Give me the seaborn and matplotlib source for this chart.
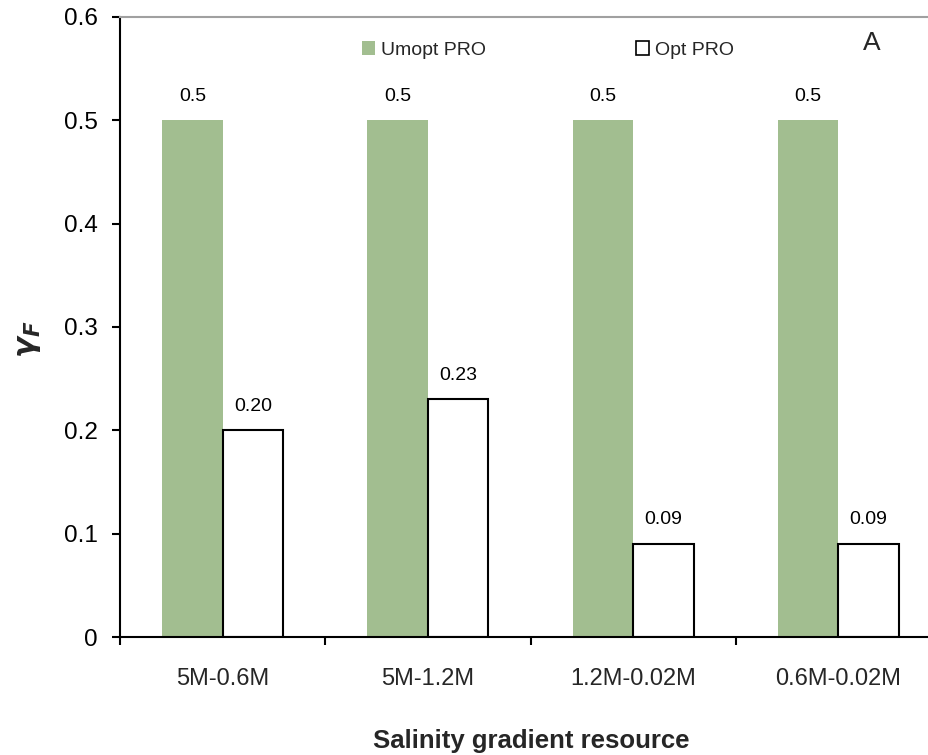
import matplotlib
matplotlib.use("Agg")
import matplotlib.pyplot as plt
import seaborn as sns
import pandas as pd
from matplotlib.patches import Patch

categories = ["5M-0.6M", "5M-1.2M", "1.2M-0.02M", "0.6M-0.02M"]
series = ["Umopt PRO", "Opt PRO"]
umopt_values = [0.5, 0.5, 0.5, 0.5]
opt_values = [0.20, 0.23, 0.09, 0.09]
umopt_labels = ["0.5", "0.5", "0.5", "0.5"]
opt_labels = ["0.20", "0.23", "0.09", "0.09"]
y_ticks = [0, 0.1, 0.2, 0.3, 0.4, 0.5, 0.6]
y_ticklabels = ["0", "0.1", "0.2", "0.3", "0.4", "0.5", "0.6"]

GREEN = "#A2BE90"

sns.set_theme(style="white")
plt.rcParams["font.family"] = ["Liberation Sans", "DejaVu Sans"]
plt.rcParams["mathtext.fontset"] = "dejavusans"

df = pd.DataFrame({
    "cat": categories * 2,
    "series": [series[0]] * 4 + [series[1]] * 4,
    "val": umopt_values + opt_values,
})

fig = plt.figure(figsize=(9.29, 7.55), dpi=100)
ax = fig.add_axes([120 / 929, 118 / 755, 809 / 929, 620 / 755])

sns.barplot(data=df, x="cat", y="val", hue="series", order=categories,
            hue_order=series, palette=[GREEN, "white"], width=0.59, gap=0,
            saturation=1, ax=ax, legend=False, errorbar=None)

for p in ax.containers[0]:
    p.set_edgecolor("none")
    p.set_linewidth(0)
for p in ax.containers[1]:
    p.set_edgecolor("black")
    p.set_linewidth(1.5)

for cont, labs in zip(ax.containers, [umopt_labels, opt_labels]):
    for p, lab in zip(cont, labs):
        ax.annotate(lab, (p.get_x() + p.get_width() / 2, p.get_height()),
                    xytext=(0, 17.5), textcoords="offset points",
                    ha="center", va="center", fontsize=14, color="black")

ax.set_yticks(y_ticks)
ax.set_yticklabels(y_ticklabels)
ax.tick_params(axis="y", direction="out", length=6, width=1.5, pad=10,
               labelsize=17.5, left=True, colors="black")
ax.set_xticks(range(len(categories)))
ax.set_xticklabels(categories)
ax.tick_params(axis="x", which="major", length=0, pad=22, labelsize=17)
ax.set_xticks([-0.5, 0.5, 1.5, 2.5, 3.5], minor=True)
ax.tick_params(axis="x", which="minor", direction="out", length=6, width=1.5,
               bottom=True, color="black")
ax.set_ylim(0, 0.6)
ax.set_xlim(-0.5, 3.5 - 12 / 205)

for s in ["left", "bottom"]:
    ax.spines[s].set_color("black")
    ax.spines[s].set_linewidth(1.5)
ax.spines["top"].set_color("#A0A0A0")
ax.spines["top"].set_linewidth(1.5)
ax.spines["right"].set_visible(False)

ax.set_xlabel("Salinity gradient resource", fontsize=18.5, fontweight="bold",
              va="center")
ax.xaxis.set_label_coords(0.508, -0.168)
ax.set_ylabel(r"$\mathbfit{\gamma}_{\mathbfit{F}}$", fontsize=22, va="center")
ax.yaxis.set_label_coords(-0.114, 0.48)

handles = [Patch(facecolor=GREEN, edgecolor="none"),
           Patch(facecolor="white", edgecolor="black", linewidth=1.2)]
ax.legend(handles, series, loc="center", bbox_to_anchor=(0.529, 0.947),
          ncol=2, frameon=False, fontsize=14, handlelength=0.7,
          handleheight=0.7, handletextpad=0.3, columnspacing=7.7)

ax.text((872 - 120) / 809, (637 - 43) / 620, "A", transform=ax.transAxes,
        ha="center", va="center", fontsize=19)

fig.savefig("out.png", dpi=100)
